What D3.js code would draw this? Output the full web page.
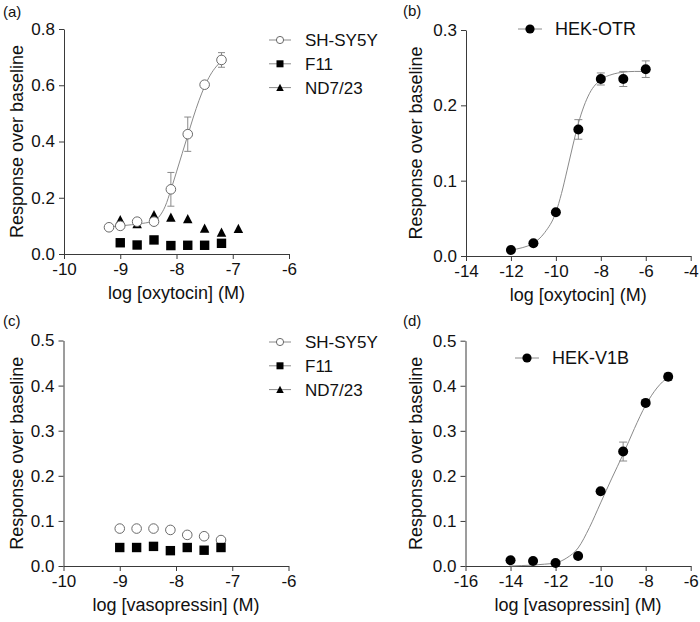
<!DOCTYPE html>
<html><head><meta charset="utf-8">
<script src="https://cdn.jsdelivr.net/npm/d3@7"></script>
<style>
html,body{margin:0;padding:0;background:#fff;}
svg{display:block;font-family:"Liberation Sans",Arial,Helvetica,sans-serif;}
</style></head>
<body><svg id="chart" width="700" height="622"></svg>
<script>
// ---------- Panel (a): oxytocin, neuronal lines ----------
const aX_SH = [-9.2, -9.0, -8.7, -8.4, -8.1, -7.8, -7.5, -7.2];
const aY_SH = [0.095, 0.100, 0.115, 0.115, 0.230, 0.426, 0.602, 0.690];
const aE_SH = [0, 0, 0, 0, 0.060, 0.061, 0.008, 0.026];
const aX_F11 = [-9.0, -8.7, -8.4, -8.1, -7.8, -7.5, -7.2];
const aY_F11 = [0.040, 0.032, 0.050, 0.030, 0.031, 0.031, 0.038];
const aX_ND = [-9.0, -8.7, -8.4, -8.1, -7.8, -7.5, -7.2, -6.9];
const aY_ND = [0.121, 0.107, 0.139, 0.130, 0.125, 0.091, 0.077, 0.090];
const aFitX = [-9.2, -9.0, -8.8, -8.6, -8.4, -8.3, -8.2, -8.1, -8.0, -7.9, -7.8, -7.7, -7.6, -7.5, -7.4, -7.3, -7.2];
const aFitY = [0.097, 0.100, 0.104, 0.109, 0.118, 0.135, 0.170, 0.228, 0.292, 0.357, 0.422, 0.487, 0.546, 0.596, 0.636, 0.665, 0.686];

// ---------- Panel (b): oxytocin, HEK-OTR ----------
const bX = [-12, -11, -10, -9, -8, -7, -6];
const bY = [0.008, 0.017, 0.058, 0.168, 0.235, 0.235, 0.248];
const bE = [0, 0, 0.002, 0.013, 0.008, 0.010, 0.011];
const bFitX = [-12, -11.5, -11, -10.5, -10, -9.75, -9.5, -9.25, -9, -8.75, -8.5, -8, -7.5, -7, -6.5, -6];
const bFitY = [0.008, 0.011, 0.017, 0.031, 0.058, 0.083, 0.114, 0.146, 0.176, 0.199, 0.216, 0.234, 0.241, 0.244, 0.245, 0.245];

// ---------- Panel (c): vasopressin, neuronal lines ----------
const cX_SH = [-9.0, -8.7, -8.4, -8.1, -7.8, -7.5, -7.2];
const cY_SH = [0.083, 0.083, 0.083, 0.080, 0.069, 0.066, 0.0575];
const cX_F11 = [-9.0, -8.7, -8.4, -8.1, -7.8, -7.5, -7.2];
const cY_F11 = [0.041, 0.041, 0.0435, 0.034, 0.041, 0.035, 0.041];
const cX_ND = [];
const cY_ND = [];

// ---------- Panel (d): vasopressin, HEK-V1B ----------
const dX = [-14, -13, -12, -11, -10, -9, -8, -7];
const dY = [0.0126, 0.011, 0.0067, 0.022, 0.166, 0.254, 0.362, 0.420];
const dE = [0, 0, 0, 0, 0, 0.021, 0, 0.008];
const dFitX = [-14, -13.5, -13, -12.5, -12, -11.5, -11, -10.5, -10, -9.5, -9, -8.5, -8, -7.5, -7];
const dFitY = [0.000, 0.001, 0.002, 0.004, 0.007, 0.018, 0.040, 0.085, 0.140, 0.195, 0.248, 0.305, 0.357, 0.395, 0.420];

// ---------- Axis ticks / labels ----------
const aXTicks = [-10, -9, -8, -7, -6];
const aYTicks = [0, 0.2, 0.4, 0.6, 0.8];
const bXTicks = [-14, -12, -10, -8, -6, -4];
const bYTicks = [0, 0.1, 0.2, 0.3];
const cXTicks = [-10, -9, -8, -7, -6];
const cYTicks = [0, 0.1, 0.2, 0.3, 0.4, 0.5];
const dXTicks = [-16, -14, -12, -10, -8, -6];
const dYTicks = [0, 0.1, 0.2, 0.3, 0.4, 0.5];
const panelLabels = ["(a)", "(b)", "(c)", "(d)"];
const xTitles = ["log [oxytocin] (M)", "log [oxytocin] (M)", "log [vasopressin] (M)", "log [vasopressin] (M)"];
const yTitle = "Response over baseline";
const neuroNames = ["SH-SY5Y", "F11", "ND7/23"];
const hekNames = ["HEK-OTR", "HEK-V1B"];

const zip = (xs, ys, es) => xs.map((x, i) => ({x, y: ys[i], e: es ? es[i] : 0}));

const svg = d3.select("#chart");
const AX = "#3a3a3a", CURVE = "#8a8a8a", ERR = "#8a8a8a", OPEN = "#6a6a6a";

const panels = [
  {label: panelLabels[0], lx: 3, ly: 17, x0: 64, x1: 289, yb: 254, yt: 29, xd: [-10, -6], yd: [0, 0.8],
   xt: aXTicks, yt_: aYTicks, xTitle: xTitles[0], ytx: 17, type: "neuro",
   sh: zip(aX_SH, aY_SH, aE_SH), f11: zip(aX_F11, aY_F11), nd: zip(aX_ND, aY_ND), fit: zip(aFitX, aFitY),
   leg: {mx: 280, tx: 305, y: 40}},
  {label: panelLabels[1], lx: 403, ly: 16, x0: 466, x1: 690.7, yb: 256, yt: 30, xd: [-14, -4], yd: [0, 0.3],
   xt: bXTicks, yt_: bYTicks, xTitle: xTitles[1], ytx: 416, type: "hek",
   pts: zip(bX, bY, bE), fit: zip(bFitX, bFitY), name: hekNames[0], leg: {mx: 530, tx: 555, y: 29}},
  {label: panelLabels[2], lx: 3, ly: 326, x0: 63.5, x1: 288.5, yb: 566, yt: 340.5, xd: [-10, -6], yd: [0, 0.5],
   xt: cXTicks, yt_: cYTicks, xTitle: xTitles[2], ytx: 17, type: "neuro",
   sh: zip(cX_SH, cY_SH), f11: zip(cX_F11, cY_F11), nd: zip(cX_ND, cY_ND), fit: null,
   leg: {mx: 280, tx: 305, y: 342}},
  {label: panelLabels[3], lx: 403, ly: 326, x0: 465.5, x1: 690.7, yb: 566, yt: 340.7, xd: [-16, -6], yd: [0, 0.5],
   xt: dXTicks, yt_: dYTicks, xTitle: xTitles[3], ytx: 416, type: "hek",
   pts: zip(dX, dY, dE), fit: zip(dFitX, dFitY), name: hekNames[1], leg: {mx: 527, tx: 552, y: 358}}
];

const tri = d3.symbol().type(d3.symbolTriangle);

function drawTriangle(g, cx, cy, w) {
  const h = w * 0.92;
  g.append("path").attr("d", `M${cx},${cy - h/2 - 0.5}L${cx + w/2},${cy + h/2}L${cx - w/2},${cy + h/2}Z`).attr("fill", "#000");
}

panels.forEach(p => {
  const g = svg.append("g");
  const x = d3.scaleLinear().domain(p.xd).range([p.x0, p.x1]);
  const y = d3.scaleLinear().domain(p.yd).range([p.yb, p.yt]);

  // axes
  const xa = g.append("g").attr("transform", `translate(0,${p.yb})`)
    .call(d3.axisBottom(x).tickValues(p.xt).tickSize(5).tickSizeOuter(0).tickPadding(4).tickFormat(d3.format("d")));
  const ya = g.append("g").attr("transform", `translate(${p.x0},0)`)
    .call(d3.axisLeft(y).tickValues(p.yt_).tickSize(5).tickSizeOuter(0).tickPadding(4).tickFormat(d3.format(".1f")));
  [xa, ya].forEach(a => {
    a.selectAll("path,line").attr("stroke", AX).attr("stroke-width", 1);
    a.selectAll("text").attr("fill", "#111").style("font-size", "17px").style("font-family", "inherit");
  });
  xa.selectAll("text").text(d => d < 0 ? "-" + Math.abs(d) : d);

  // titles
  g.append("text").attr("x", (p.x0 + p.x1) / 2).attr("y", p.yb + 45).attr("text-anchor", "middle")
    .style("font-size", "18px").attr("fill", "#111").text(p.xTitle);
  g.append("text").attr("transform", `translate(${p.ytx + 6},${(p.yb + p.yt) / 2}) rotate(-90)`)
    .attr("text-anchor", "middle").style("font-size", "18px").attr("fill", "#111").text(yTitle);
  g.append("text").attr("x", p.lx).attr("y", p.ly).style("font-size", "15px").attr("fill", "#111").text(p.label);

  const line = d3.line().x(d => x(d.x)).y(d => y(d.y)).curve(d3.curveMonotoneX);

  if (p.type === "neuro") {
    // triangles (ND7/23) at the back
    p.nd.forEach(d => drawTriangle(g, x(d.x), y(d.y), 9.5));
    if (p.fit) g.append("path").datum(p.fit).attr("d", line).attr("fill", "none").attr("stroke", CURVE).attr("stroke-width", 1);
    // error bars SH-SY5Y
    p.sh.filter(d => d.e > 0).forEach(d => {
      const cx = x(d.x), t = y(d.y + d.e), b = y(d.y - d.e);
      g.append("line").attr("x1", cx).attr("x2", cx).attr("y1", t).attr("y2", b).attr("stroke", ERR);
      [t, b].forEach(v => g.append("line").attr("x1", cx - 3.5).attr("x2", cx + 3.5).attr("y1", v).attr("y2", v).attr("stroke", ERR));
    });
    p.sh.forEach(d => g.append("circle").attr("cx", x(d.x)).attr("cy", y(d.y)).attr("r", 4.8)
      .attr("fill", "#fff").attr("stroke", OPEN).attr("stroke-width", 1));
    p.f11.forEach(d => g.append("rect").attr("x", x(d.x) - 4.7).attr("y", y(d.y) - 4.7)
      .attr("width", 9.4).attr("height", 9.4).attr("fill", "#000"));
    // legend
    const L = p.leg, dy = 23.8;
    neuroNames.forEach((n, i) => {
      const ly = L.y + i * dy;
      g.append("line").attr("x1", L.mx - 11).attr("x2", L.mx + 11).attr("y1", ly).attr("y2", ly).attr("stroke", CURVE);
      if (i === 0) g.append("circle").attr("cx", L.mx).attr("cy", ly).attr("r", 3.6).attr("fill", "#fff").attr("stroke", OPEN);
      if (i === 1) g.append("rect").attr("x", L.mx - 3.5).attr("y", ly - 3.5).attr("width", 7).attr("height", 7).attr("fill", "#000");
      if (i === 2) drawTriangle(g, L.mx, ly, 7.5);
      g.append("text").attr("x", L.tx).attr("y", ly).attr("dy", "0.36em").style("font-size", "17px").attr("fill", "#111").text(n);
    });
  } else {
    g.append("path").datum(p.fit).attr("d", line).attr("fill", "none").attr("stroke", CURVE).attr("stroke-width", 1);
    p.pts.filter(d => d.e > 0).forEach(d => {
      const cx = x(d.x), t = y(d.y + d.e), b = y(d.y - d.e);
      g.append("line").attr("x1", cx).attr("x2", cx).attr("y1", t).attr("y2", b).attr("stroke", ERR);
      [t, b].forEach(v => g.append("line").attr("x1", cx - 4).attr("x2", cx + 4).attr("y1", v).attr("y2", v).attr("stroke", ERR));
    });
    p.pts.forEach(d => g.append("circle").attr("cx", x(d.x)).attr("cy", y(d.y)).attr("r", 5).attr("fill", "#000"));
    const L = p.leg;
    g.append("line").attr("x1", L.mx - 12).attr("x2", L.mx + 12).attr("y1", L.y).attr("y2", L.y).attr("stroke", CURVE);
    g.append("circle").attr("cx", L.mx).attr("cy", L.y).attr("r", 4.6).attr("fill", "#000");
    g.append("text").attr("x", L.tx).attr("y", L.y).attr("dy", "0.36em").style("font-size", "18px").attr("fill", "#111").text(p.name);
  }
});
</script>
</body></html>
